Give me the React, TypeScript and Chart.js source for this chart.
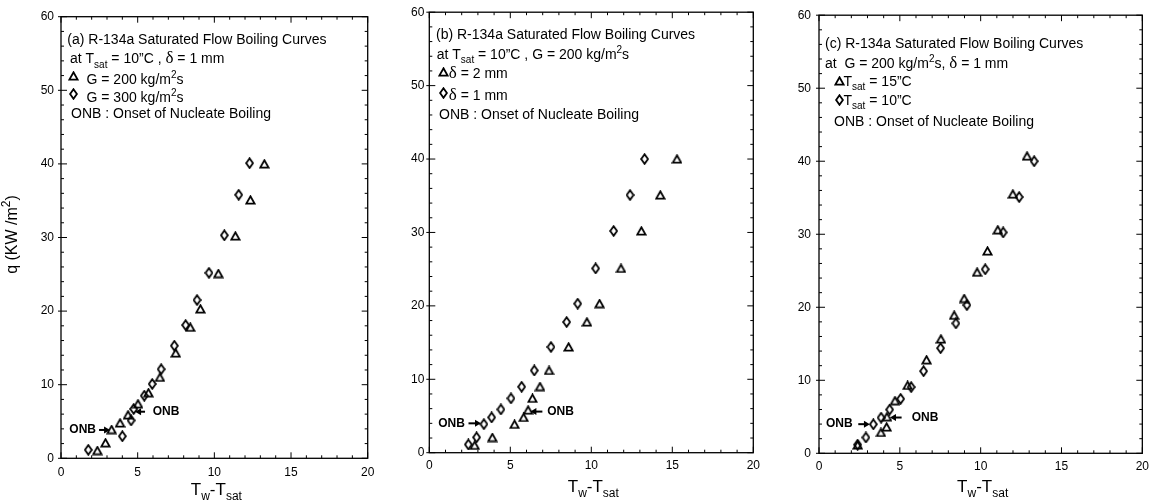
import { useEffect, useRef } from "react";
import { Chart, registerables } from "chart.js";
Chart.register(...registerables);

const SANS = '"Liberation Sans", Arial, Helvetica, sans-serif';
const SERIF = '"Liberation Serif", "DejaVu Serif", serif';

const X_TICKS = [0, 5, 10, 15, 20];
const Y_TICKS = [0, 10, 20, 30, 40, 50, 60];

// Panel (a): Tsat = 10C, delta = 1 mm
const A_G200_X = [2.37, 2.9, 3.3, 3.85, 4.37, 5.02, 5.7, 6.45, 7.48, 8.43, 9.09, 10.26, 11.37, 12.35, 13.26];
const A_G200_Y = [1.05, 2.1, 3.9, 4.8, 5.9, 7.4, 8.9, 11.0, 14.3, 17.8, 20.3, 25.1, 30.2, 35.1, 40.0];
const A_G300_X = [1.78, 4.0, 4.57, 4.74, 5.43, 5.95, 6.53, 7.39, 8.13, 8.87, 9.65, 10.65, 11.59, 12.3];
const A_G300_Y = [1.15, 3.0, 5.15, 6.7, 8.5, 10.1, 12.1, 15.3, 18.1, 21.5, 25.2, 30.3, 35.8, 40.1];

// Panel (b): Tsat = 10C, G = 200
const B_D2_X = [2.8, 3.89, 5.26, 5.82, 6.1, 6.37, 6.83, 7.39, 8.6, 9.73, 10.51, 11.83, 13.09, 14.26, 15.29];
const B_D2_Y = [1.0, 2.07, 3.86, 4.8, 5.8, 7.4, 9.0, 11.2, 14.4, 17.8, 20.3, 25.1, 30.2, 35.1, 40.0];
const B_D1_X = [2.41, 2.92, 3.37, 3.85, 4.42, 5.04, 5.7, 6.48, 7.51, 8.48, 9.16, 10.27, 11.38, 12.39, 13.29];
const B_D1_Y = [1.12, 2.09, 3.89, 4.81, 5.9, 7.4, 8.98, 11.2, 14.4, 17.8, 20.3, 25.1, 30.2, 35.1, 40.0];

// Panel (c): G = 200, delta = 1 mm
const C_T15_X = [2.39, 3.83, 4.18, 4.2, 4.7, 5.48, 6.65, 7.54, 8.36, 8.98, 9.78, 10.42, 11.06, 11.99, 12.87];
const C_T15_Y = [1.13, 2.85, 3.6, 5.0, 7.2, 9.3, 12.8, 15.65, 18.9, 21.2, 24.8, 27.7, 30.6, 35.5, 40.7];
const C_T10_X = [2.39, 2.9, 3.36, 3.84, 4.37, 5.05, 5.7, 6.47, 7.52, 8.47, 9.15, 10.28, 11.39, 12.38, 13.31];
const C_T10_Y = [1.18, 2.17, 3.97, 4.88, 5.99, 7.46, 9.07, 11.25, 14.4, 17.8, 20.3, 25.2, 30.25, 35.1, 40.0];

// ONB markers: [textEdgeX, y, arrowFromX, arrowToX]
const A_ONB_LEFT = [2.28, 3.85, 2.48, 3.2];
const A_ONB_RIGHT = [5.98, 6.33, 5.48, 4.83];
const B_ONB_LEFT = [2.2, 4.0, 2.42, 3.19];
const B_ONB_RIGHT = [7.28, 5.6, 6.98, 6.24];
const C_ONB_LEFT = [2.08, 3.99, 2.43, 3.15];
const C_ONB_RIGHT = [5.73, 4.9, 5.11, 4.39];

type Seg = { t: string; k?: "sub" | "sup" | "greek" };
type Line = { x: number; y: number; segs: Seg[]; marker?: { kind: "tri" | "dia"; x: number; y: number } };

function makeTri(): HTMLCanvasElement {
  const c = document.createElement("canvas");
  c.width = 11; c.height = 10;
  const g = c.getContext("2d")!;
  g.strokeStyle = "#000"; g.lineWidth = 1.8; g.lineJoin = "miter";
  g.beginPath(); g.moveTo(5.5, 1.3); g.lineTo(9.6, 8.6); g.lineTo(1.4, 8.6); g.closePath(); g.stroke();
  return c;
}
function makeDia(): HTMLCanvasElement {
  const c = document.createElement("canvas");
  c.width = 9; c.height = 12;
  const g = c.getContext("2d")!;
  g.strokeStyle = "#000"; g.lineWidth = 1.8;
  g.beginPath(); g.moveTo(4.5, 1.2); g.lineTo(7.9, 6); g.lineTo(4.5, 10.8); g.lineTo(1.1, 6); g.closePath(); g.stroke();
  return c;
}

function fontFor(k: Seg["k"], size: number) {
  if (k === "sub" || k === "sup") return `${Math.round(size * 0.72)}px ${SANS}`;
  if (k === "greek") return `${size + 3}px ${SERIF}`;
  return `${size}px ${SANS}`;
}
function dyFor(k: Seg["k"], size: number) {
  if (k === "sub") return size * 0.32;
  if (k === "sup") return -size * 0.42;
  return 0;
}
function drawRich(ctx: CanvasRenderingContext2D, segs: Seg[], x: number, y: number, size: number, align: "left" | "center" = "left") {
  ctx.textBaseline = "alphabetic";
  ctx.textAlign = "left";
  let w = 0;
  for (const s of segs) { ctx.font = fontFor(s.k, size); w += ctx.measureText(s.t).width; }
  let cx = align === "center" ? x - w / 2 : x;
  for (const s of segs) {
    ctx.font = fontFor(s.k, size);
    ctx.fillText(s.t, cx, y + dyFor(s.k, size));
    cx += ctx.measureText(s.t).width;
  }
}

const PANELS = [
  {
    id: "a", cl: 0, cw: 385,
    area: { left: 61, right: 367.7, top: 16.7, bottom: 458.3 },
    yPad: 7, xPad: 7, xTitleY: 495, yTitle: true,
    series: [
      { label: "G = 200 kg/m2s", kind: "tri", xs: A_G200_X, ys: A_G200_Y },
      { label: "G = 300 kg/m2s", kind: "dia", xs: A_G300_X, ys: A_G300_Y },
    ],
    onb: [A_ONB_LEFT, A_ONB_RIGHT],
    lines: [
      { x: 6.3, y: 27.5, segs: [{ t: "(a) R-134a Saturated Flow Boiling Curves" }] },
      { x: 9, y: 46.5, segs: [{ t: "at T" }, { t: "sat", k: "sub" }, { t: " = 10\u201DC , " }, { t: "\u03B4", k: "greek" }, { t: " = 1 mm" }] },
      { x: 25.5, y: 67.5, segs: [{ t: "G = 200 kg/m" }, { t: "2", k: "sup" }, { t: "s" }], marker: { kind: "tri", x: 12.8, y: 59.6 } },
      { x: 25.5, y: 85.5, segs: [{ t: "G = 300 kg/m" }, { t: "2", k: "sup" }, { t: "s" }], marker: { kind: "dia", x: 12.3, y: 77.3 } },
      { x: 10, y: 101, segs: [{ t: "ONB : Onset of Nucleate Boiling" }] },
    ] as Line[],
  },
  {
    id: "b", cl: 385, cw: 385,
    area: { left: 429.3, right: 753.3, top: 11.7, bottom: 452.7 },
    yPad: 5, xPad: 6, xTitleY: 491.7, yTitle: false,
    series: [
      { label: "delta = 2 mm", kind: "tri", xs: B_D2_X, ys: B_D2_Y },
      { label: "delta = 1 mm", kind: "dia", xs: B_D1_X, ys: B_D1_Y },
    ],
    onb: [B_ONB_LEFT, B_ONB_RIGHT],
    lines: [
      { x: 6.7, y: 26.6, segs: [{ t: "(b) R-134a Saturated Flow Boiling Curves" }] },
      { x: 7.4, y: 46.6, segs: [{ t: "at T" }, { t: "sat", k: "sub" }, { t: " = 10\u201DC , G = 200 kg/m" }, { t: "2", k: "sup" }, { t: "s" }] },
      { x: 19.5, y: 65.6, segs: [{ t: "\u03B4", k: "greek" }, { t: " = 2 mm" }], marker: { kind: "tri", x: 14, y: 59.5 } },
      { x: 19.5, y: 87.6, segs: [{ t: "\u03B4", k: "greek" }, { t: " = 1 mm" }], marker: { kind: "dia", x: 13.7, y: 80.8 } },
      { x: 9.7, y: 106.6, segs: [{ t: "ONB : Onset of Nucleate Boiling" }] },
    ] as Line[],
  },
  {
    id: "c", cl: 770, cw: 385,
    area: { left: 819, right: 1142.7, top: 12.3, bottom: 453.3 },
    yPad: 8, xPad: 6, xTitleY: 491.7, yTitle: false,
    series: [
      { label: "Tsat = 15C", kind: "tri", xs: C_T15_X, ys: C_T15_Y },
      { label: "Tsat = 10C", kind: "dia", xs: C_T10_X, ys: C_T10_Y },
    ],
    onb: [C_ONB_LEFT, C_ONB_RIGHT],
    lines: [
      { x: 6, y: 32.7, segs: [{ t: "(c) R-134a Saturated Flow Boiling Curves" }] },
      { x: 6, y: 52.7, segs: [{ t: "at  G = 200 kg/m" }, { t: "2", k: "sup" }, { t: "s, " }, { t: "\u03B4", k: "greek" }, { t: " = 1 mm" }] },
      { x: 24.5, y: 70.4, segs: [{ t: "T" }, { t: "sat", k: "sub" }, { t: " = 15\u201DC" }], marker: { kind: "tri", x: 20, y: 66 } },
      { x: 24.5, y: 89.4, segs: [{ t: "T" }, { t: "sat", k: "sub" }, { t: " = 10\u201DC" }], marker: { kind: "dia", x: 20, y: 85 } },
      { x: 15, y: 111, segs: [{ t: "ONB : Onset of Nucleate Boiling" }] },
    ] as Line[],
  },
];

function Panel({ p }: { p: (typeof PANELS)[number] }) {
  const ref = useRef<HTMLCanvasElement>(null);
  useEffect(() => {
    const tri = makeTri();
    const dia = makeDia();
    const img = (k: string) => (k === "tri" ? tri : dia);
    const H = 504;
    const yW = p.area.left - p.cl;
    const xH = H - p.area.bottom;
    const overlay = {
      id: "overlay" + p.id,
      afterDraw(chart: any) {
        const { ctx, chartArea: a } = chart;
        const xs = chart.scales.x, ys = chart.scales.y;
        ctx.save();
        ctx.strokeStyle = "#000";
        ctx.fillStyle = "#000";
        ctx.lineWidth = 1.3;
        ctx.strokeRect(a.left, a.top, a.right - a.left, a.bottom - a.top);
        ctx.lineWidth = 1;
        const seg = (x1: number, y1: number, x2: number, y2: number) => {
          ctx.beginPath(); ctx.moveTo(x1, y1); ctx.lineTo(x2, y2); ctx.stroke();
        };
        for (let v = 0; v <= 20; v++) {
          const px = xs.getPixelForValue(v);
          const L = v % 5 === 0 ? 6 : 3;
          seg(px, a.bottom, px, a.bottom - L);
          seg(px, a.top, px, a.top + L);
        }
        for (let v = 0; v <= 60; v += 2) {
          const py = ys.getPixelForValue(v);
          const L = v % 10 === 0 ? 6 : 3;
          seg(a.left, py, a.left + L, py);
          seg(a.right, py, a.right - L, py);
          if (v % 10 === 0) seg(a.left - 3, py, a.left, py);
        }
        // legend text block
        ctx.fillStyle = "#000";
        for (const ln of p.lines) {
          if (ln.marker) {
            const m = img(ln.marker.kind);
            ctx.drawImage(m, Math.round(a.left + ln.marker.x - m.width / 2), Math.round(a.top + ln.marker.y - m.height / 2));
          }
          drawRich(ctx, ln.segs, a.left + ln.x, a.top + ln.y, 14);
        }
        // ONB annotations
        ctx.font = `bold 12px ${SANS}`;
        ctx.textBaseline = "middle";
        const arrow = (fx: number, tx: number, py: number) => {
          const x1 = xs.getPixelForValue(fx), x2 = xs.getPixelForValue(tx);
          const dir = Math.sign(x2 - x1);
          ctx.lineWidth = 2;
          seg(x1, py, x2 - dir * 5, py);
          ctx.beginPath();
          ctx.moveTo(x2, py);
          ctx.lineTo(x2 - dir * 6, py - 3.5);
          ctx.lineTo(x2 - dir * 6, py + 3.5);
          ctx.closePath();
          ctx.fill();
        };
        const [l, r] = p.onb;
        const ly = ys.getPixelForValue(l[1]);
        ctx.textAlign = "right";
        ctx.fillText("ONB", xs.getPixelForValue(l[0]), ly);
        arrow(l[2], l[3], ly);
        const ry = ys.getPixelForValue(r[1]);
        ctx.textAlign = "left";
        ctx.fillText("ONB", xs.getPixelForValue(r[0]), ry);
        arrow(r[2], r[3], ry);
        // axis titles
        const cx = (a.left + a.right) / 2 + 2;
        drawRich(ctx, [{ t: "T" }, { t: "w", k: "sub" }, { t: "-T" }, { t: "sat", k: "sub" }], cx, p.xTitleY, 17, "center");
        if (p.yTitle) {
          ctx.save();
          ctx.translate(17, (a.top + a.bottom) / 2 - 3);
          ctx.rotate(-Math.PI / 2);
          drawRich(ctx, [{ t: "q (KW /m" }, { t: "2", k: "sup" }, { t: ")" }], 0, 0, 16, "center");
          ctx.restore();
        }
        ctx.restore();
      },
    };
    const chart = new Chart(ref.current!, {
      type: "scatter",
      data: {
        datasets: p.series.map((s) => ({
          label: s.label,
          data: s.xs.map((x, i) => ({ x, y: s.ys[i] })),
          pointStyle: img(s.kind) as any,
          pointRadius: 5,
          borderColor: "#000",
          backgroundColor: "#000",
          showLine: false,
        })),
      },
      options: {
        animation: false,
        responsive: false,
        maintainAspectRatio: false,
        events: [],
        layout: { padding: { left: 0, right: p.cl + p.cw - p.area.right, top: p.area.top, bottom: 0 } },
        plugins: { legend: { display: false }, tooltip: { enabled: false } },
        scales: {
          x: {
            type: "linear", min: 0, max: 20,
            afterBuildTicks: (s: any) => { s.ticks = X_TICKS.map((v) => ({ value: v })); },
            afterFit: (s: any) => { s.height = xH; },
            grid: { display: false, drawTicks: false },
            border: { display: false },
            ticks: { color: "#000", font: { family: SANS, size: 12 }, padding: p.xPad, maxRotation: 0, callback: (v: any) => String(v) },
          },
          y: {
            type: "linear", min: 0, max: 60,
            afterBuildTicks: (s: any) => { s.ticks = Y_TICKS.map((v) => ({ value: v })); },
            afterFit: (s: any) => { s.width = yW; },
            grid: { display: false, drawTicks: false },
            border: { display: false },
            ticks: { color: "#000", font: { family: SANS, size: 12 }, padding: p.yPad, callback: (v: any) => String(v) },
          },
        },
      },
      plugins: [overlay],
    });
    return () => chart.destroy();
  }, []);
  return (
    <canvas
      ref={ref}
      width={p.cw}
      height={504}
      style={{ position: "absolute", left: p.cl, top: 0, width: p.cw, height: 504 }}
    />
  );
}

export default function App() {
  return (
    <div style={{ position: "absolute", left: 0, top: 0, width: 1155, height: 504, background: "#fff" }}>
      {PANELS.map((p) => (
        <Panel key={p.id} p={p} />
      ))}
    </div>
  );
}
